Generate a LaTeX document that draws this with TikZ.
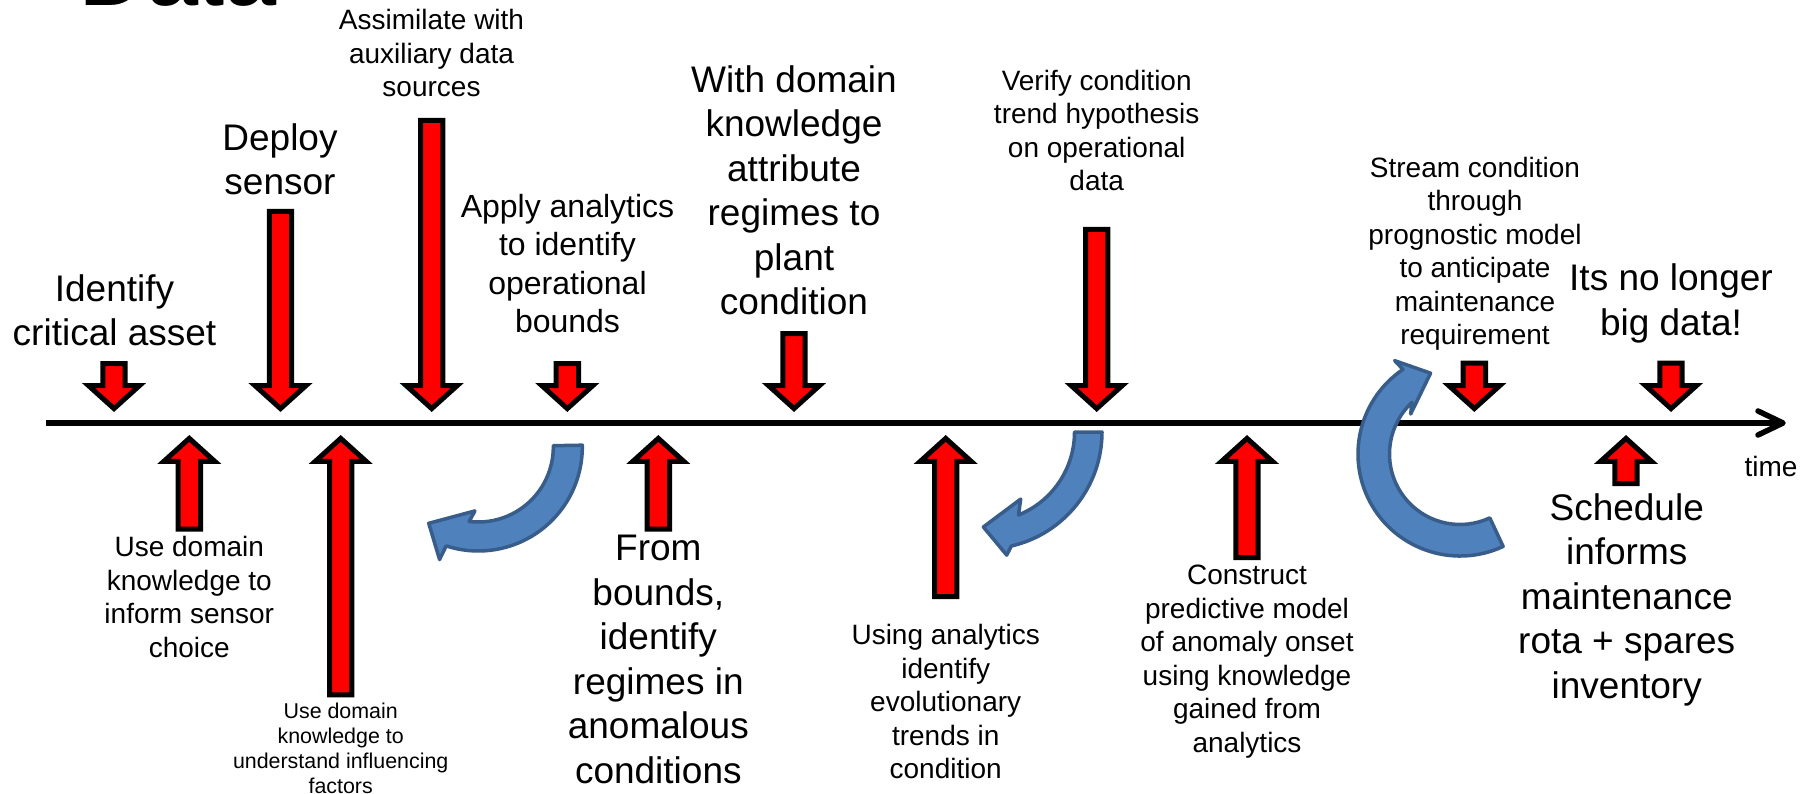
\documentclass[tikz,border=0pt]{standalone}
\usepackage{fontspec}
\setmainfont{Liberation Sans}
\usetikzlibrary{calc}

\definecolor{arrowred}{RGB}{255,0,0}
\definecolor{cyclefill}{RGB}{79,129,189}
\definecolor{cycleedge}{RGB}{56,93,138}

% multi-line labels: the base anchor sits on the baseline of the last line
\tikzset{
  txtL/.style={font=\fontsize{37}{44.5}\selectfont, align=center, inner sep=0pt, anchor=base},
  txtML/.style={font=\fontsize{32}{38.2}\selectfont, align=center, inner sep=0pt, anchor=base},
  txtM/.style={font=\fontsize{28}{33.5}\selectfont, align=center, inner sep=0pt, anchor=base},
  txtS/.style={font=\fontsize{21.4}{25}\selectfont, align=center, inner sep=0pt, anchor=base},
  redblock/.style={fill=arrowred, draw=black, line width=5, line join=miter},
  bluecurve/.style={fill=cyclefill, draw=cycleedge, line width=3.5, line join=round},
  timeline/.style={draw=black, line width=5.5},
}

% block arrow pointing down: centre x, tail y, tip y
\newcommand\eventdown[3]{%
  \filldraw[redblock] ({#1-11.2},#2) -- ({#1+11.2},#2) -- ({#1+11.2},{#3-23})
    -- ({#1+25.5},{#3-23}) -- (#1,#3) -- ({#1-25.5},{#3-23})
    -- ({#1-11.2},{#3-23}) -- cycle;}
% block arrow pointing up: centre x, tail y, tip y
\newcommand\eventup[3]{%
  \filldraw[redblock] ({#1-11.2},#2) -- ({#1+11.2},#2) -- ({#1+11.2},{#3+23})
    -- ({#1+25.5},{#3+23}) -- (#1,#3) -- ({#1-25.5},{#3+23})
    -- ({#1-11.2},{#3+23}) -- cycle;}

\begin{document}
\begin{tikzpicture}[x=1pt,y=-1pt]
  \useasboundingbox (0,0) rectangle (1814,794);
  \fill[white] (0,0) rectangle (1814,794);

  % heading, cut by the top edge
  \node[anchor=base west, inner sep=0pt, font=\fontsize{94}{94}\selectfont] (title) at (78,6) {Data};

  % time axis
  \coordinate (tstart) at (46,423);
  \coordinate (tend) at (1783,423);
  \draw[timeline] (tstart) -- (tend);
  \draw[timeline, line cap=round, line join=round]
    ($(tend)+(-25,-12)$) -- (tend) -- ($(tend)+(-25,12)$);
  \node[txtM] (time) at (1771,476) {time};

  % curved feedback arrows
  \begin{scope}[shift={(478.3,447)}]
    \filldraw[bluecurve] (-1:104) arc[start angle=-1, end angle=108, radius=104]
      -- (109:119) -- (123:91) -- (93:64) -- (97:75)
      arc[start angle=97, end angle=-1, radius=75] -- cycle;
  \end{scope}
  \begin{scope}[shift={(985,432)}]
    \filldraw[bluecurve] (0:117) arc[start angle=0, end angle=77, radius=117]
      -- (80:125) -- (91:95) -- (62:76) -- (68:89.5)
      arc[start angle=68, end angle=0, radius=89.5] -- cycle;
  \end{scope}
  \begin{scope}[shift={(1460,454)}]
    \filldraw[bluecurve] (65:102) arc[start angle=65, end angle=236, radius=102]
      -- (235:114) -- (250:86) -- (219:63.5) -- (227:70.5)
      arc[start angle=227, end angle=65, radius=70.5] -- cycle;
  \end{scope}

  % events above the axis
  \eventdown{114}{363.5}{408.6}
  \eventdown{280.5}{211.5}{408.6}
  \eventdown{431.7}{120.5}{408.6}
  \eventdown{567.3}{363.5}{408.6}
  \eventdown{794}{333.5}{408.6}
  \eventdown{1096.7}{229.5}{408.6}
  \eventdown{1474.3}{363.2}{408.6}
  \eventdown{1671}{363.2}{408.6}

  % events below the axis
  \eventup{189.3}{529.2}{438.4}
  \eventup{340.7}{694.8}{438.4}
  \eventup{658.3}{529.2}{438.4}
  \eventup{945.7}{596.5}{438.4}
  \eventup{1247}{557.5}{438.4}
  \eventup{1626}{483.5}{438.4}

  % labels above the axis
  \node[txtL] (identify) at (114.5,345.5) {Identify\\critical asset};
  \node[txtL] (deploy) at (280,195) {Deploy\\sensor};
  \node[txtM] (assimilate) at (431.5,97) {Assimilate with\\auxiliary data\\sources};
  \node[txtML] (apply) at (567.5,332.3) {Apply analytics\\to identify\\operational\\bounds};
  \node[txtL] (attribute) at (794,314.6) {With domain\\knowledge\\attribute\\regimes to\\plant\\condition};
  \node[txtM] (verify) at (1096.7,190.6) {Verify condition\\trend hypothesis\\on operational\\data};
  \node[txtM] (stream) at (1475,344.6) {Stream condition\\through\\prognostic model\\to anticipate\\maintenance\\requirement};
  \node[txtL] (nolonger) at (1671,335) {Its no longer\\big data!};

  % labels below the axis
  \node[txtM] (sensorchoice) at (189.3,657) {Use domain\\knowledge to\\inform sensor\\choice};
  \node[txtS] (factors) at (340.7,793.3) {Use domain\\knowledge to\\understand influencing\\factors};
  \node[txtL] (regimes) at (658.3,783) {From\\bounds,\\identify\\regimes in\\anomalous\\conditions};
  \node[txtM] (trends) at (945.7,778.5) {Using analytics\\identify\\evolutionary\\trends in\\condition};
  \node[txtM] (predictive) at (1247,752) {Construct\\predictive model\\of anomaly onset\\using knowledge\\gained from\\analytics};
  \node[txtL] (schedule) at (1626.7,698.3) {Schedule\\informs\\maintenance\\rota + spares\\inventory};
\end{tikzpicture}
\end{document}
